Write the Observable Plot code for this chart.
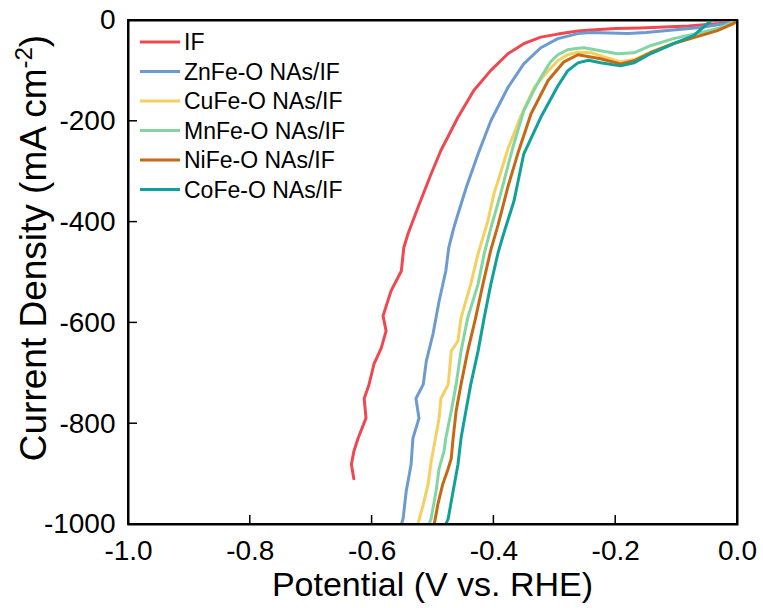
<!DOCTYPE html>
<html><head><meta charset="utf-8">
<script src="https://cdn.jsdelivr.net/npm/d3@7"></script>
<script src="https://cdn.jsdelivr.net/npm/@observablehq/plot@0.6"></script>
<style>body{margin:0;background:#fff;} #chart{width:763px;height:608px;} #pad{position:absolute;left:0;top:0;width:1px;height:1px;}</style>
</head><body><div id="chart"></div><div id="pad"></div>
<script>
const seriesNames = ["IF", "ZnFe-O NAs/IF", "CuFe-O NAs/IF", "MnFe-O NAs/IF", "NiFe-O NAs/IF", "CoFe-O NAs/IF"];
const seriesColors = ["#ee4850", "#6c9bd0", "#f5d060", "#82d6a2", "#c46a16", "#12a09a"];

const ifV = [0, -0.03, -0.08, -0.12, -0.16, -0.2, -0.24, -0.262, -0.295, -0.323, -0.351, -0.377, -0.405, -0.433, -0.459, -0.487, -0.503, -0.525, -0.541, -0.548, -0.552, -0.569, -0.582, -0.577, -0.585, -0.597, -0.605, -0.613, -0.610, -0.623, -0.630, -0.634, -0.630];
const ifJ = [0, -6, -11, -13, -15, -16, -19, -21, -27, -33, -46, -66, -99, -139, -192, -258, -304, -372, -423, -451, -497, -537, -586, -616, -650, -682, -722, -750, -789, -829, -855, -881, -909];

const znV = [0, -0.03, -0.061, -0.115, -0.15, -0.18, -0.21, -0.24, -0.262, -0.295, -0.323, -0.351, -0.377, -0.405, -0.426, -0.445, -0.459, -0.466, -0.474, -0.479, -0.490, -0.500, -0.511, -0.516, -0.528, -0.523, -0.533, -0.536, -0.544, -0.549, -0.552];
const znJ = [-2, -8, -14, -20, -24, -26, -25, -24, -26, -36, -54, -86, -133, -199, -265, -330, -384, -412, -450, -497, -557, -622, -676, -722, -750, -789, -829, -881, -934, -988, -1000];

const cuV = [0, -0.033, -0.061, -0.105, -0.143, -0.17, -0.192, -0.225, -0.24, -0.262, -0.279, -0.295, -0.311, -0.334, -0.356, -0.377, -0.393, -0.400, -0.410, -0.426, -0.438, -0.454, -0.459, -0.470, -0.475, -0.487, -0.490, -0.500, -0.503, -0.508, -0.516, -0.525];
const cuJ = [-3, -19, -30, -45, -63, -78, -82, -70, -64, -63, -68, -80, -100, -133, -190, -255, -318, -344, -398, -463, -523, -590, -636, -656, -722, -750, -789, -855, -875, -920, -960, -1000];

const mnV = [0, -0.033, -0.061, -0.105, -0.143, -0.17, -0.197, -0.225, -0.252, -0.262, -0.279, -0.295, -0.307, -0.323, -0.334, -0.351, -0.369, -0.389, -0.405, -0.416, -0.426, -0.443, -0.454, -0.462, -0.470, -0.479, -0.482, -0.490, -0.495, -0.503, -0.507];
const mnJ = [0, -16, -24, -36, -50, -64, -66, -60, -54, -55, -58, -68, -82, -113, -138, -179, -252, -344, -412, -463, -523, -590, -656, -722, -775, -829, -855, -889, -934, -988, -1000];

const niV = [0, -0.007, -0.033, -0.061, -0.105, -0.143, -0.17, -0.192, -0.225, -0.262, -0.285, -0.311, -0.339, -0.361, -0.377, -0.393, -0.405, -0.418, -0.430, -0.443, -0.454, -0.462, -0.467, -0.470, -0.475, -0.484, -0.492, -0.498];
const niJ = [0, -6, -20, -30, -46, -64, -80, -86, -76, -68, -82, -119, -185, -265, -330, -405, -455, -523, -590, -656, -722, -775, -829, -869, -889, -920, -960, -1000];

const coV = [-0.035, -0.049, -0.072, -0.105, -0.143, -0.17, -0.192, -0.225, -0.245, -0.262, -0.279, -0.295, -0.323, -0.351, -0.367, -0.384, -0.393, -0.405, -0.416, -0.426, -0.438, -0.446, -0.454, -0.459, -0.467, -0.475, -0.479];
const coJ = [8, -6, -30, -46, -66, -84, -90, -84, -79, -84, -100, -130, -192, -265, -358, -423, -460, -523, -590, -656, -722, -775, -829, -881, -934, -988, -1000];

const xTicks = [-1.0, -0.8, -0.6, -0.4, -0.2, 0.0];
const yTicks = [0, -200, -400, -600, -800, -1000];

const seriesData = [[ifV, ifJ], [znV, znJ], [cuV, cuJ], [mnV, mnJ], [niV, niJ], [coV, coJ]];
const rows = [];
seriesData.forEach(([v, j], k) => v.forEach((x, i) => rows.push({series: seriesNames[k], v: x, j: j[i]})));

const font = "'Liberation Sans', Arial, sans-serif";
const chart = Plot.plot({
  width: 763, height: 608,
  marginLeft: 128, marginRight: 26, marginTop: 20, marginBottom: 84,
  style: {fontFamily: font, background: "#fff", color: "#000"},
  x: {domain: [-1, 0], label: null},
  y: {domain: [-1000, 0], label: null},
  color: {domain: seriesNames, range: seriesColors},
  marks: [
    Plot.frame({stroke: "#000", strokeWidth: 2}),
    Plot.axisX(xTicks, {tickSize: 0, tickPadding: 16, tickFormat: d => d.toFixed(1), fontSize: 28, label: null}),
    Plot.axisY(yTicks, {tickSize: 0, tickPadding: 13, tickFormat: d => String(d), fontSize: 28, label: null}),
    Plot.line(rows, {x: "v", y: "j", z: "series", stroke: "series", strokeWidth: 3, clip: true})
  ]
});
document.getElementById("chart").appendChild(chart);

const svg = d3.select(chart);
const sx = chart.scale("x"), sy = chart.scale("y");
const x0 = sx.apply(sx.domain[0]), x1 = sx.apply(sx.domain[1]);
const yb = sy.apply(sy.domain[0]), ytp = sy.apply(sy.domain[1]);

// frame and inward ticks as filled bars, positioned from Plot's own scales
const ax = svg.append("g");
const bar = (x, y, w, h) => ax.append("rect").attr("x", x).attr("y", y).attr("width", w).attr("height", h).attr("fill", "#000").attr("stroke", "none");
bar(x0 - 1, ytp - 1, (x1 - x0) + 2, 2);
bar(x0 - 1, yb - 1, (x1 - x0) + 2, 2);
bar(x0 - 1, ytp - 1, 2, (yb - ytp) + 2);
bar(x1 - 1, ytp - 1, 2, (yb - ytp) + 2);
xTicks.forEach(t => { const px = sx.apply(t); bar(px - 0.75, yb - 9, 1.5, 9); });
yTicks.forEach(t => { const py = sy.apply(t); bar(x0, py - 0.75, 9, 1.5); });

svg.append("text").attr("x", (x0 + x1) / 2).attr("y", 596).attr("text-anchor", "middle")
  .attr("font-family", font).attr("font-size", 34).attr("fill", "#000").text("Potential (V vs. RHE)");
const yt = svg.append("text").attr("transform", "translate(46,248) rotate(-90)").attr("text-anchor", "middle")
  .attr("font-family", font).attr("font-size", 37).attr("fill", "#000");
yt.append("tspan").text("Current Density (mA cm");
yt.append("tspan").attr("font-size", 24).attr("dy", -14).text("-2");
yt.append("tspan").attr("dy", 14).text(")");

const lg = svg.append("g").attr("font-family", font).attr("font-size", 23).attr("text-anchor", "start");
seriesNames.forEach((name, i) => {
  const y = 42 + i * 29.5;
  lg.append("line").attr("x1", 140).attr("x2", 180).attr("y1", y).attr("y2", y)
    .attr("stroke", seriesColors[i]).attr("stroke-width", 3);
  lg.append("text").attr("x", 184).attr("y", y).attr("dy", "0.35em").attr("fill", "#000").text(name);
});
</script>
</body></html>
